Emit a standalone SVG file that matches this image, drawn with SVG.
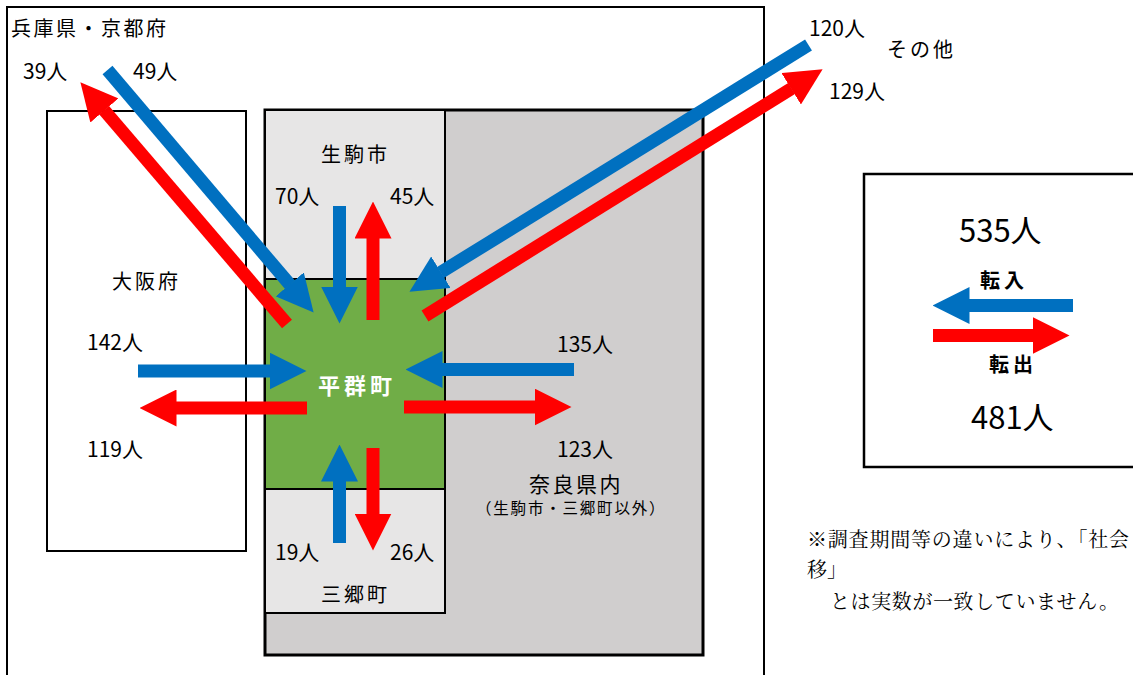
<svg xmlns="http://www.w3.org/2000/svg" width="1133" height="675" viewBox="0 0 1133 675">
<style>
  text { font-family: "Noto Sans CJK JP", "Noto Sans", sans-serif; fill: #000; }
  .num { font-size: 21px; }
  .big { font-size: 31px; }
  .lbl { font-size: 20px; letter-spacing: 3px; }
  .note { font-family: "Noto Serif CJK JP", "Noto Sans CJK JP", serif; font-size: 20px; }
  .box { stroke: #000; stroke-width: 2; }
  .b { stroke: #0070C0; stroke-width: 13; fill: none; }
  .r { stroke: #FF0000; stroke-width: 13; fill: none; }
  .b { marker-end: url(#hb); }
  .r { marker-end: url(#hr); }
</style>
<defs>
  <marker id="hb" markerUnits="userSpaceOnUse" viewBox="0 0 37 37" markerWidth="37" markerHeight="37" refX="0.5" refY="18.5" orient="auto">
    <path d="M0,0 L37,18.5 L0,37 Z" fill="#0070C0"/>
  </marker>
  <marker id="hr" markerUnits="userSpaceOnUse" viewBox="0 0 37 37" markerWidth="37" markerHeight="37" refX="0.5" refY="18.5" orient="auto">
    <path d="M0,0 L37,18.5 L0,37 Z" fill="#FF0000"/>
  </marker>
</defs>
<rect width="1133" height="675" fill="#fff"/>

<g id="hyogo-kyoto">
  <rect class="box" x="7" y="7" width="757" height="720" fill="#fff"/>
  <text class="lbl" x="11" y="36" style="letter-spacing:2.5px">兵庫県・京都府</text>
</g>

<g id="osaka">
  <rect class="box" x="47" y="111" width="199" height="440" fill="#fff"/>
  <text class="lbl" x="112" y="289">大阪府</text>
</g>

<g id="nara">
  <rect x="265" y="110" width="438" height="545" fill="#D0CECE" stroke="#000" stroke-width="3"/>
  <text x="529" y="492" style="font-size:21px;letter-spacing:2.5px">奈良県内</text>
  <text x="476" y="514" style="font-size:15.5px;letter-spacing:1.8px">（生駒市・三郷町以外）</text>
</g>

<g id="ikoma">
  <rect class="box" x="265" y="110" width="180" height="169" fill="#E7E6E6"/>
  <text class="lbl" x="321" y="162">生駒市</text>
</g>

<g id="sango">
  <rect class="box" x="265" y="489" width="180" height="124" fill="#E7E6E6"/>
  <text class="lbl" x="321" y="602">三郷町</text>
</g>

<g id="heguri">
  <rect class="box" x="265" y="279" width="180" height="210" fill="#70AD47"/>
  <text x="318" y="394" style="font-size:22px;font-weight:bold;letter-spacing:4px;fill:#fff">平群町</text>
</g>

<g id="other">
  <text class="lbl" x="887" y="57">その他</text>
</g>

<g id="legend">
  <rect x="864" y="174" width="300" height="293" fill="#fff" stroke="#000" stroke-width="2.5"/>
  <text class="big" x="959" y="242">535人</text>
  <text x="980" y="288" style="font-size:20px;font-weight:bold;letter-spacing:4px">転入</text>
  <text x="989" y="372" style="font-size:20px;font-weight:bold;letter-spacing:4px">転出</text>
  <text class="big" x="971" y="429">481人</text>
</g>

<g id="connectors">
  <line class="b" x1="107.5" y1="70" x2="290" y2="284.8"/>
  <line class="r" x1="287" y1="324" x2="104.1" y2="110.1"/>
  <line class="b" x1="808.5" y1="45" x2="440.5" y2="272.5"/>
  <line class="r" x1="425" y1="316" x2="791.6" y2="88.5"/>
  <line class="b" x1="339.5" y1="206" x2="339.5" y2="287"/>
  <line class="r" x1="373" y1="320" x2="373" y2="238"/>
  <line class="b" x1="339.5" y1="543" x2="339.5" y2="481"/>
  <line class="r" x1="373" y1="448" x2="373" y2="514"/>
  <line class="b" x1="574" y1="369.5" x2="442" y2="369.5"/>
  <line class="r" x1="404" y1="407" x2="535" y2="407"/>
  <line class="b" x1="138" y1="371" x2="270" y2="371"/>
  <line class="r" x1="307" y1="408" x2="176" y2="408"/>
  <line class="b" x1="1073" y1="305.5" x2="969" y2="305.5"/>
  <line class="r" x1="933" y1="335.5" x2="1033" y2="335.5"/>
</g>

<g id="labels">
  <text class="num" x="23" y="79">39人</text>
  <text class="num" x="133" y="79">49人</text>
  <text class="num" x="275" y="204">70人</text>
  <text class="num" x="390" y="204">45人</text>
  <text class="num" x="87" y="350">142人</text>
  <text class="num" x="87" y="457">119人</text>
  <text class="num" x="557" y="352">135人</text>
  <text class="num" x="557" y="457">123人</text>
  <text class="num" x="275" y="560">19人</text>
  <text class="num" x="390" y="560">26人</text>
  <text class="num" x="809" y="36">120人</text>
  <text class="num" x="829" y="99">129人</text>
</g>

<g id="note">
  <text class="note" x="807" y="547" style="letter-spacing:0.8px">※調査期間等の違いにより、「社会</text>
  <text class="note" x="807" y="577">移」</text>
  <text class="note" x="830" y="609" style="letter-spacing:0.6px">とは実数が一致していません。</text>
</g>
</svg>
